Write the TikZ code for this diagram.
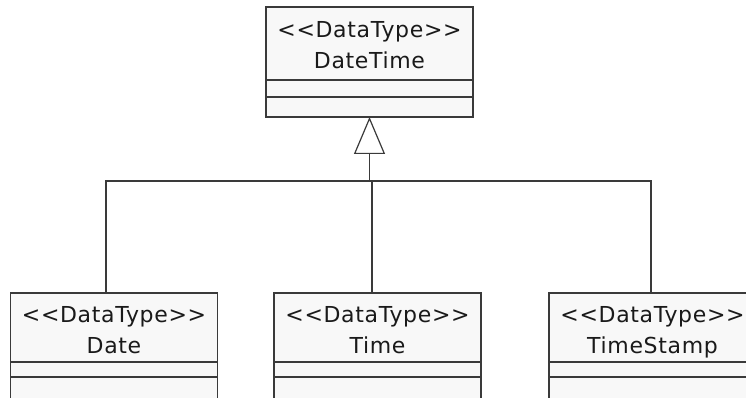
\documentclass[tikz,border=0pt]{standalone}
\usepackage{fontspec}
\newfontfamily\umlfont[LetterSpace=3]{DejaVu Sans}
\usetikzlibrary{arrows.meta,positioning}
\definecolor{umlline}{HTML}{3A3A3A}
\definecolor{umlfill}{HTML}{F8F8F8}
\definecolor{umlink}{HTML}{1A1A1A}

% stereotype line over the class name, with fixed struts so all heads line up
\newcommand{\datatype}[1]{\rule{0pt}{25pt}<{}<DataType>{}>\\#1\rule[-5pt]{0pt}{5pt}}

\begin{document}
\begin{tikzpicture}[x=1pt,y=-1pt,
  classhead/.style={draw=umlline,fill=umlfill,line width=1.2pt,
    minimum width=207pt,minimum height=#1,inner sep=0pt,outer sep=0pt,
    align=center,text=umlink,font=\umlfont\fontsize{22}{31}\selectfont},
  classhead/.default=71pt,
  classpart/.style={draw=umlline,fill=umlfill,line width=1.2pt,
    minimum width=207pt,minimum height=#1,inner sep=0pt,outer sep=0pt},
  link/.style={draw=umlline,line width=1.2pt},
  gen/.style={link,-{Triangle[open,fill=white,length=37pt,width=31pt]}}]
\useasboundingbox (0,0) rectangle (746,398);
\clip (0,0) rectangle (746,398);

% super class
\node[classhead=73pt,anchor=north] (datetime) at (369.5,7) {\datatype{DateTime}};
\node[classpart=17pt,below=0pt of datetime] (datetimeA) {};
\node[classpart=20pt,below=0pt of datetimeA] (datetimeB) {};

% sub classes
\node[classhead=69pt,anchor=north] (date) at (114,293) {\datatype{Date}};
\node[classpart=15pt,below=0pt of date] (dateA) {};
\node[classpart=25pt,below=0pt of dateA] (dateB) {};

\node[classhead=69pt,anchor=north] (time) at (377.5,293) {\datatype{Time}};
\node[classpart=15pt,below=0pt of time] (timeA) {};
\node[classpart=25pt,below=0pt of timeA] (timeB) {};

\node[classhead=69pt,anchor=north] (stamp) at (652.5,293) {\datatype{TimeStamp}};
\node[classpart=15pt,below=0pt of stamp] (stampA) {};
\node[classpart=25pt,below=0pt of stampA] (stampB) {};

% generalisation tree
\coordinate (bus) at (369.5,181);
\coordinate (dateTop) at ([xshift=-8pt]date.north);
\coordinate (timeTop) at ([xshift=-5.5pt]time.north);
\coordinate (stampTop) at ([xshift=-1.5pt]stamp.north);
\draw[link] (dateTop) |- (bus -| stampTop) -- (stampTop);
\draw[link] (timeTop) -- (timeTop |- bus);
\draw[gen] (bus) -- (datetimeB.south);
\end{tikzpicture}
\end{document}
